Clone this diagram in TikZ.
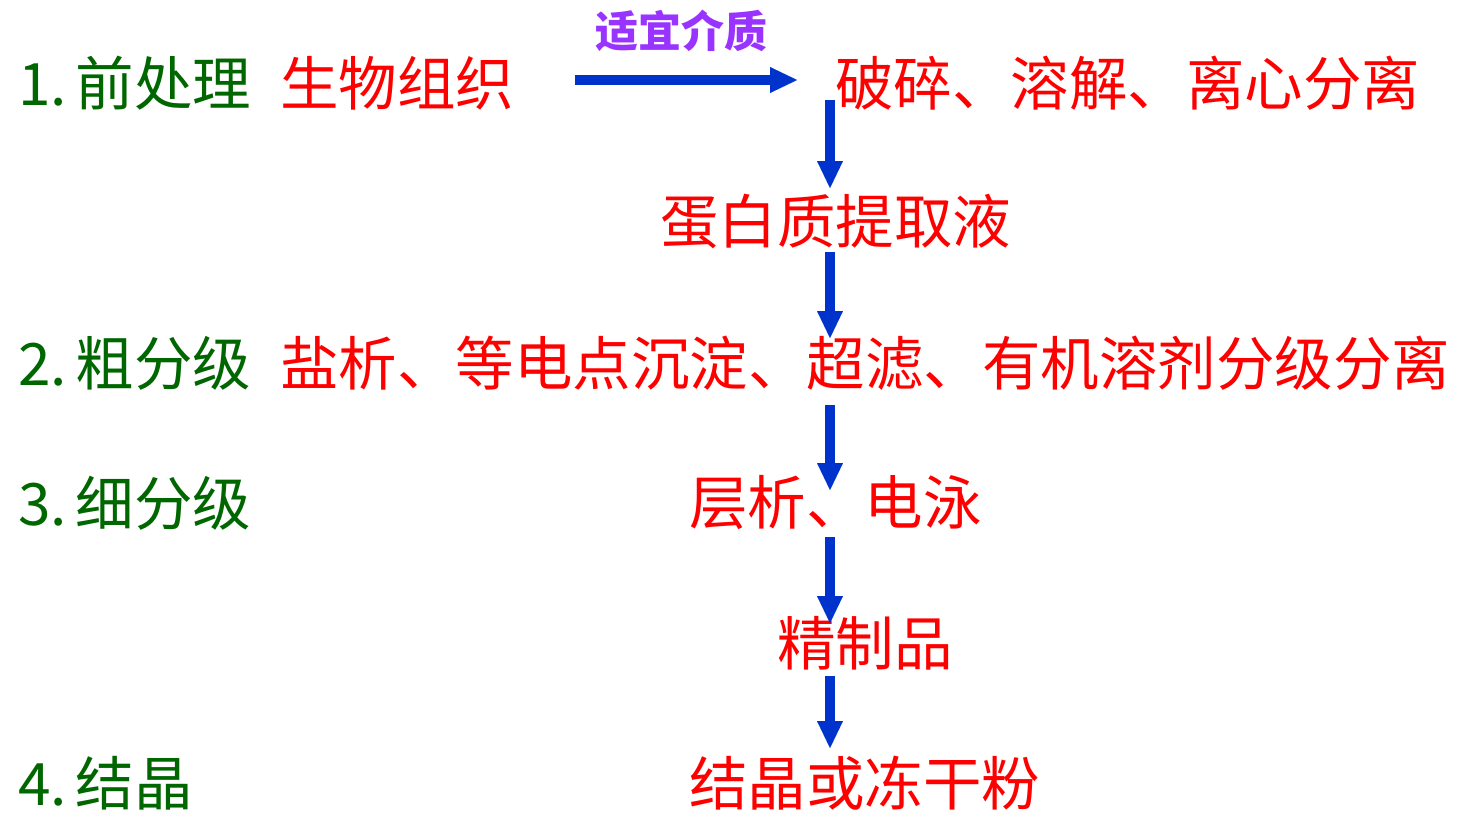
\documentclass[tikz,border=0pt]{standalone}
\usepackage{fontspec}
\setmainfont{Noto Sans CJK SC}
\usetikzlibrary{arrows.meta}
\definecolor{tgreen}{HTML}{006600}
\definecolor{tred}{HTML}{FF0000}
\definecolor{tpurple}{HTML}{9933FF}
\definecolor{tblue}{HTML}{0033CC}
\begin{document}
\begin{tikzpicture}[x=1pt,y=-1pt,
  lab/.style={inner sep=0pt, anchor=west, font=\fontsize{58.5}{62}\selectfont},
  stage/.style={lab, text=tgreen},
  item/.style={lab, text=tred},
  medium/.style={inner sep=0pt, text=tpurple, font=\fontsize{43}{46}\selectfont\bfseries},
  arr/.style={draw=tblue, line width=10pt, -{Triangle[width=26pt,length=27pt,line width=0.01pt]}}]
\useasboundingbox (0,0) rectangle (1484,822);
% stages
\node[stage] (s1) at (18,83) {1.\kern9pt 前处理};
\node[stage] (s2) at (18,363) {2.\kern9pt 粗分级};
\node[stage] (s3) at (18,503) {3.\kern9pt 细分级};
\node[stage] (s4) at (18,783) {4.\kern9pt 结晶};
% items
\node[item] (tissue) at (280,83) {生物组织};
\node[item] (break) at (835,83) {破碎、溶解、离心分离};
\node[item] (extract) at (660,222) {蛋白质提取液};
\node[item] (crude) at (280,363) {盐析、等电点沉淀、超滤、有机溶剂分级分离};
\node[item] (fine) at (689,503) {层析、电泳};
\node[item] (pure) at (777,643) {精制品};
\node[item] (final) at (689,783) {结晶或冻干粉};
\node[medium] (med) at (681,31) {适宜介质};
% arrow end points
\coordinate (h0) at (575,80);
\coordinate (h1) at (797,80);
\coordinate (v1a) at (830,100);
\coordinate (v1b) at (830,188);
\coordinate (v2a) at (830,252);
\coordinate (v2b) at (830,338);
\coordinate (v3a) at (830,405);
\coordinate (v3b) at (830,490);
\coordinate (v4a) at (830,537);
\coordinate (v4b) at (830,623);
\coordinate (v5a) at (830,676);
\coordinate (v5b) at (830,748);
\draw[arr] (h0) -- (h1);
\draw[arr] (v1a) -- (v1b);
\draw[arr] (v2a) -- (v2b);
\draw[arr] (v3a) -- (v3b);
\draw[arr] (v4a) -- (v4b);
\draw[arr] (v5a) -- (v5b);
\end{tikzpicture}
\end{document}
